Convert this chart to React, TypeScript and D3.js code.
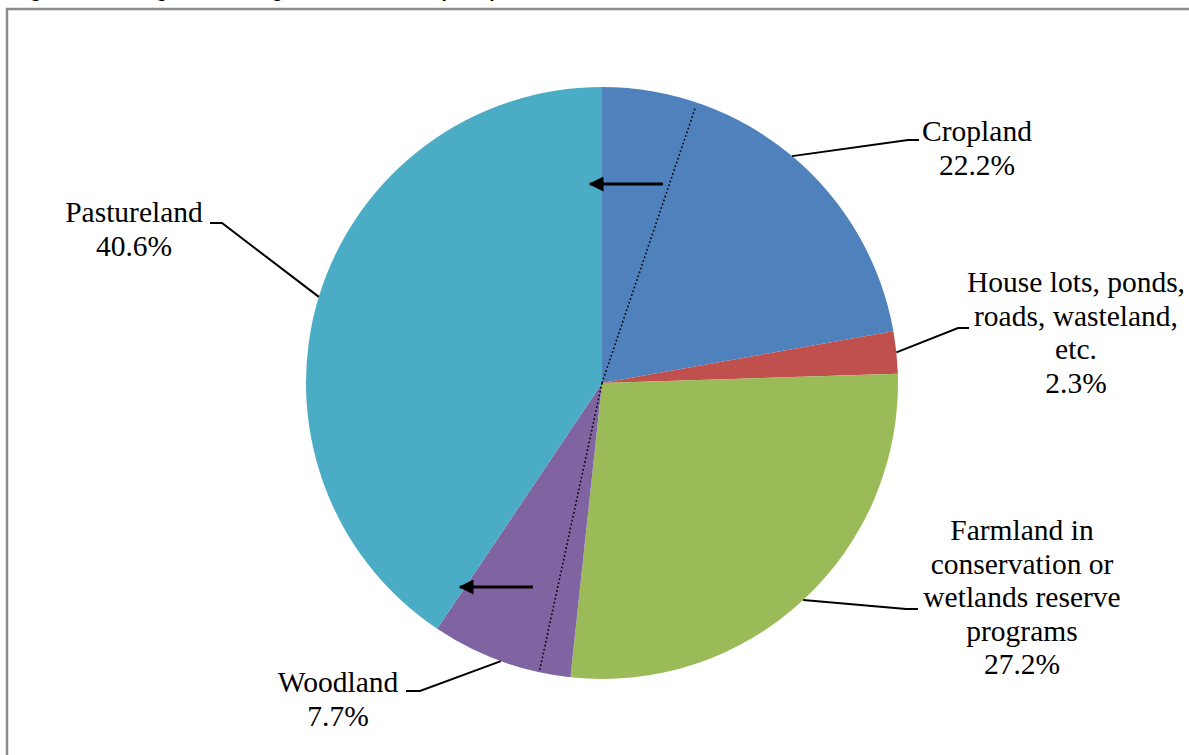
import * as d3 from 'd3'

// land use shares, clockwise from 12 o'clock
const categories = [
  'Cropland',
  'House lots, ponds, roads, wasteland, etc.',
  'Farmland in conservation or wetlands reserve programs',
  'Woodland',
  'Pastureland',
]
const values = [22.2, 2.3, 27.2, 7.7, 40.6]
const colors = ['#4F81BD', '#C0504D', '#9BBB59', '#8064A2', '#4BACC6']
const labelLines = [
  ['Cropland', '22.2%'],
  ['House lots, ponds,', 'roads, wasteland,', 'etc.', '2.3%'],
  ['Farmland in', 'conservation or', 'wetlands reserve', 'programs', '27.2%'],
  ['Woodland', '7.7%'],
  ['Pastureland', '40.6%'],
]
// dotted divider lines (cumulative percent from top) and the shift arrows
const dividerAt = [5.2, 53.4]
const arrowRows = [
  { y: -199, from: 61, to: -12 },
  { y: 204, from: -69, to: -142 },
]

interface Pos {
  x: number
  y: number
}
// label placement (hand-tuned like the original Excel layout)
const labelPos: { x: number; y: number; kink: Pos; end: Pos }[] = [
  { x: 977, y: 141, kink: { x: 908, y: 140 }, end: { x: 919, y: 140 } },
  { x: 1076, y: 292, kink: { x: 958, y: 328 }, end: { x: 969, y: 328 } },
  { x: 1022, y: 540, kink: { x: 906, y: 609 }, end: { x: 918, y: 609 } },
  { x: 338, y: 692, kink: { x: 420, y: 691 }, end: { x: 406, y: 691 } },
  { x: 134, y: 222, kink: { x: 222, y: 223 }, end: { x: 210, y: 223 } },
]

const W = 1189
const H = 755
const cx = 602
const cy = 383
const R = 296
const lineH = 33.5

const App = () => {
  const pie = d3
    .pie<number>()
    .sort(null)
    .value((d) => d)
  const arcs = pie(values)
  const arc = d3.arc<d3.PieArcDatum<number>>().innerRadius(0).outerRadius(R)
  const ang = d3.scaleLinear().domain([0, 100]).range([0, 2 * Math.PI])
  const onEdge = (a: number, r: number): Pos => ({ x: cx + r * Math.sin(a), y: cy - r * Math.cos(a) })
  const line = d3
    .line<Pos>()
    .x((d) => d.x)
    .y((d) => d.y)

  return (
    <svg width={W} height={H} style={{ position: 'absolute', left: 0, top: 0, background: '#fff' }}>
      <defs>
        <marker id="arr" viewBox="0 0 10 10" refX="9" refY="5" markerWidth="5" markerHeight="5" orient="auto">
          <path d="M0,0 L10,5 L0,10 z" fill="#000" />
        </marker>
      </defs>
      <text x={12} y={-3} fontFamily="Arial, 'Liberation Sans'" fontWeight="bold" fontSize={20}>
        Figure 3. Acreage of Grazing Farm Land Use (2007)
      </text>
      <rect x={7} y={9} width={W} height={H} fill="none" stroke="#8c8c8c" strokeWidth={2.5} />
      <g transform={`translate(${cx},${cy})`}>
        {arcs.map((a, i) => (
          <path key={categories[i]} d={arc(a) ?? undefined} fill={colors[i]} />
        ))}
      </g>
      {dividerAt.map((p, i) => {
        const e = onEdge(ang(p), i === 0 ? R - 5 : R - 2)
        return (
          <line key={i} x1={cx} y1={cy} x2={e.x} y2={e.y} stroke="#000" strokeWidth={1.6} strokeDasharray="1.6,2.4" />
        )
      })}
      {arrowRows.map((r, i) => (
        <line
          key={i}
          x1={cx + r.from}
          y1={cy + r.y}
          x2={cx + r.to}
          y2={cy + r.y}
          stroke="#000"
          strokeWidth={3}
          markerEnd="url(#arr)"
        />
      ))}
      {arcs.map((a, i) => {
        const mid = (a.startAngle + a.endAngle) / 2
        const s = onEdge(mid, R)
        const lp = labelPos[i]
        return (
          <g key={'l' + i}>
            <path d={line([s, lp.kink, lp.end]) ?? undefined} fill="none" stroke="#000" strokeWidth={2} />
            <text
              x={lp.x}
              y={lp.y}
              textAnchor="middle"
              fontFamily="'Liberation Serif', 'Times New Roman', serif"
              fontSize={29.5}
              fill="#000"
            >
              {labelLines[i].map((t, j) => (
                <tspan key={j} x={lp.x} y={lp.y + j * lineH}>
                  {t}
                </tspan>
              ))}
            </text>
          </g>
        )
      })}
    </svg>
  )
}

export default App
